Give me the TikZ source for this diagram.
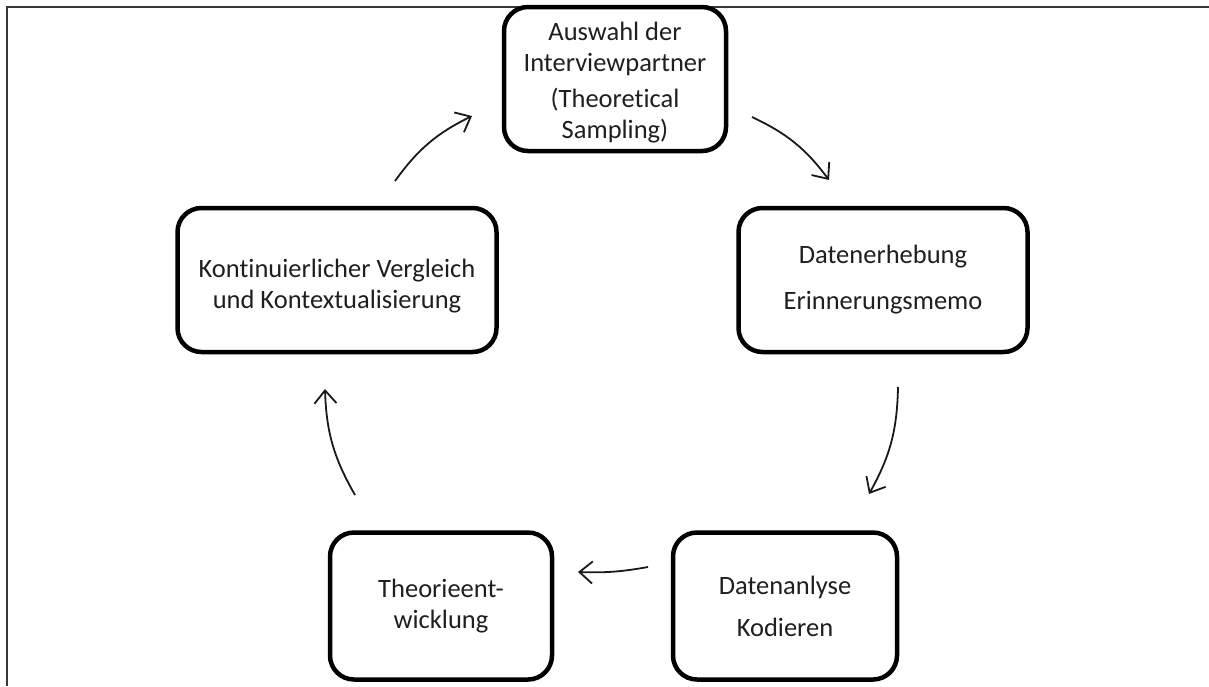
\documentclass[tikz,border=0pt]{standalone}
\usepackage{fontspec}
\setmainfont{Carlito}[Ligatures=NoCommon]
\usetikzlibrary{arrows.meta}
\begin{document}
\begin{tikzpicture}[x=1pt,y=-1pt,
  stage/.style={draw=black, line width=4.5pt, rounded corners=24pt, align=center,
    font=\fontsize{26.5}{31}\selectfont, text=black!88, inner sep=0pt},
  flow/.style={line width=1.8pt, draw=black!90,
    -{Straight Barb[length=13pt,width=22pt,line width=1.8pt]}},
  frame/.style={line width=2pt, draw=black!78}]
\useasboundingbox (0,0) rectangle (1209,686);

% page frame (top and left edges)
\draw[frame] (7,686) -- (7,7) -- (1209,7);

% stages of the research cycle
\node[stage, minimum width=222pt, minimum height=144pt] (sampling) at (615,79)
  {\rule{0pt}{26pt}Auswahl der\\Interviewpartner\\[5pt](Theoretical\\Sampling)};
\node[stage, minimum width=289pt, minimum height=144pt] (erhebung) at (883,280)
  {Datenerhebung\\[15pt]Erinnerungsmemo};
\node[stage, minimum width=224pt, minimum height=147pt] (analyse) at (785,606)
  {Datenanlyse\\[11pt]Kodieren};
\node[stage, minimum width=222pt, minimum height=147pt] (theorie) at (441,606)
  {Theorieent-\\wicklung};
\node[stage, minimum width=319pt, minimum height=144pt] (vergleich) at (337,280)
  {\rule{0pt}{30pt}Kontinuierlicher Vergleich\\und Kontextualisierung};

% arrow end points between the stages
\coordinate (s1) at (395,181);  \coordinate (e1) at (472,116);
\coordinate (s2) at (752,117);  \coordinate (e2) at (829,180);
\coordinate (s3) at (898,387);  \coordinate (e3) at (869,494);
\coordinate (s4) at (648,567);  \coordinate (e4) at (578,572);
\coordinate (s5) at (355,495);  \coordinate (e5) at (325,389);

\draw[flow] (s1) to[bend left=14] (e1);
\draw[flow] (s2) to[bend left=14] (e2);
\draw[flow] (s3) to[bend left=14] (e3);
\draw[flow] (s4) to[bend left=6] (e4);
\draw[flow] (s5) to[bend left=14] (e5);
\end{tikzpicture}
\end{document}
